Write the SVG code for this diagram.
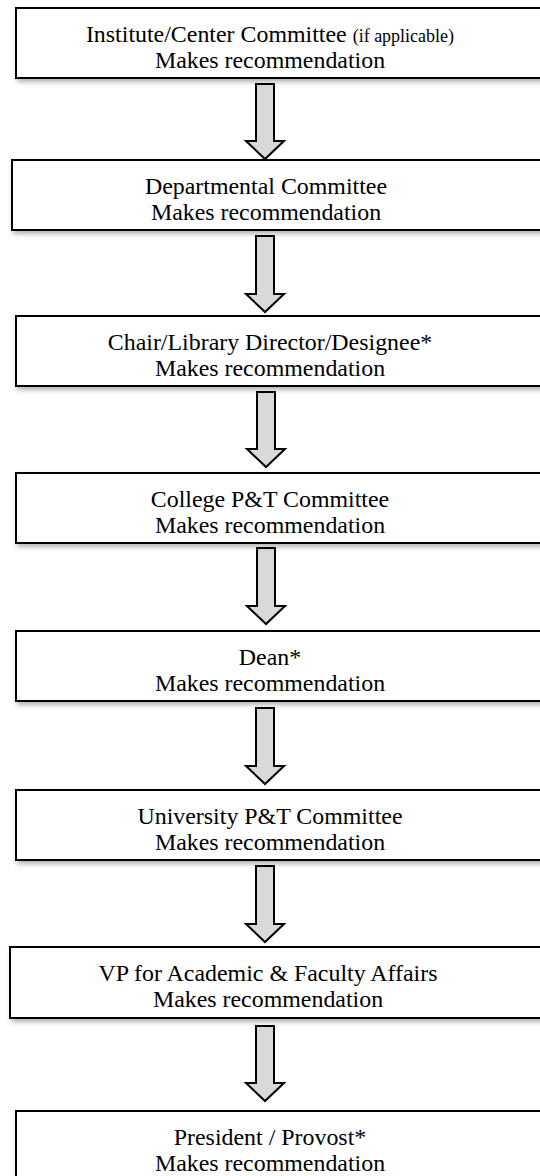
<svg xmlns="http://www.w3.org/2000/svg" width="540" height="1176" viewBox="0 0 540 1176">
<style>
.box{fill:#fff;stroke:#000;stroke-width:2;filter:url(#sh)}
.t{font-family:'Liberation Serif','Times New Roman',serif;font-size:23.9px;fill:#000;text-anchor:middle}
.s{font-size:18px}
.arr{fill:#d9d9d9;stroke:#000;stroke-width:2;stroke-linejoin:miter}
</style>
<defs>
<filter id="sh" x="-10%" y="-20%" width="130%" height="160%">
<feDropShadow dx="2" dy="3" stdDeviation="2.5" flood-color="#000" flood-opacity="0.3"/>
</filter>
</defs>
<rect width="540" height="1176" fill="#fff"/>
<g id="connectors">
<polygon class="arr" points="256,84 274,84 274,141 284,141 265,159 246,141 256,141"/>
<polygon class="arr" points="256,236 274,236 274,294 284,294 265,312 246,294 256,294"/>
<polygon class="arr" points="257,392 275,392 275,449 285,449 266,467 247,449 257,449"/>
<polygon class="arr" points="257,548 275,548 275,606 285,606 266,624 247,606 257,606"/>
<polygon class="arr" points="256,708 274,708 274,766 284,766 265,784 246,766 256,766"/>
<polygon class="arr" points="256,866 274,866 274,924 284,924 265,942 246,924 256,924"/>
<polygon class="arr" points="256,1026 274,1026 274,1083 284,1083 265,1101 246,1083 256,1083"/>
</g>
<g id="n1"><rect class="box" x="16" y="8" width="540" height="70"/>
<text class="t" x="270" y="42">Institute/Center Committee <tspan class="s">(if applicable)</tspan></text>
<text class="t" x="270" y="68">Makes recommendation</text></g>
<g id="n2"><rect class="box" x="12" y="160" width="540" height="70"/>
<text class="t" x="266" y="194">Departmental Committee</text>
<text class="t" x="266" y="220">Makes recommendation</text></g>
<g id="n3"><rect class="box" x="16" y="316" width="540" height="70"/>
<text class="t" x="270" y="350">Chair/Library Director/Designee*</text>
<text class="t" x="270" y="376">Makes recommendation</text></g>
<g id="n4"><rect class="box" x="16" y="473" width="540" height="70"/>
<text class="t" x="270" y="507">College P&amp;T Committee</text>
<text class="t" x="270" y="533">Makes recommendation</text></g>
<g id="n5"><rect class="box" x="16" y="631" width="540" height="70"/>
<text class="t" x="270" y="665">Dean*</text>
<text class="t" x="270" y="691">Makes recommendation</text></g>
<g id="n6"><rect class="box" x="16" y="790" width="540" height="70"/>
<text class="t" x="270" y="824">University P&amp;T Committee</text>
<text class="t" x="270" y="850">Makes recommendation</text></g>
<g id="n7"><rect class="box" x="10" y="947" width="540" height="71"/>
<text class="t" x="268" y="981">VP for Academic &amp; Faculty Affairs</text>
<text class="t" x="268" y="1007">Makes recommendation</text></g>
<g id="n8"><rect class="box" x="16" y="1111" width="540" height="70"/>
<text class="t" x="270" y="1145">President / Provost*</text>
<text class="t" x="270" y="1171">Makes recommendation</text></g>
</svg>
